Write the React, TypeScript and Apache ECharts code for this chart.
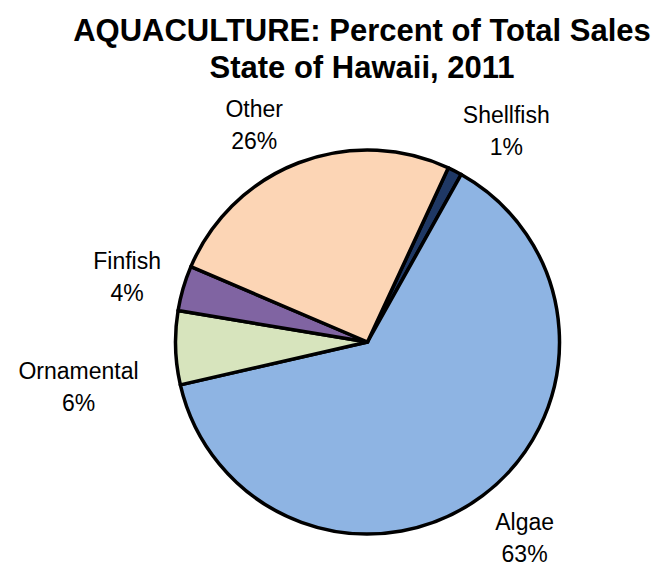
import React, { useEffect, useRef } from 'react';
import * as echarts from 'echarts';

// ---- data ----
const categories = ['Shellfish', 'Algae', 'Ornamental', 'Finfish', 'Other'];
const shares = [1.2, 63.3, 6.2, 3.8, 25.5];
const titleLines = ['AQUACULTURE: Percent of Total Sales', 'State of Hawaii, 2011'];

// ---- styles / layout ----
const colors = ['#1F3864', '#8EB4E3', '#D7E4BD', '#8064A2', '#FCD5B5'];
const labelNudge: number[][] = [[26, 10], [6, -6], [-17, 37], [-3, 4], [-25, 13]];
const W = 667;
const H = 567;
const CX = 367.5;
const CY = 342;
const R = 192;
const GAP = 20;
const START_CW = 24.9; // degrees clockwise from 12 o'clock
const FONT = '"Liberation Sans", Arial, sans-serif';

export default function App() {
  const ref = useRef<HTMLDivElement>(null);
  useEffect(() => {
    if (!ref.current) return;
    const chart = echarts.init(ref.current, undefined, { renderer: 'svg' });
    const total = shares.reduce((a, b) => a + b, 0);
    const mids: number[] = [];
    let acc = 0;
    shares.forEach((v) => {
      const a0 = START_CW + (acc / total) * 360;
      acc += v;
      const a1 = START_CW + (acc / total) * 360;
      mids.push((a0 + a1) / 2);
    });
    chart.setOption({
      animation: false,
      backgroundColor: '#ffffff',
      graphic: [
        {
          type: 'text',
          x: 362,
          y: 30,
          style: {
            text: titleLines[0],
            align: 'center',
            verticalAlign: 'middle',
            fontFamily: FONT,
            fontSize: 31,
            fontWeight: 'bold',
            fill: '#000',
          },
        },
        {
          type: 'text',
          x: 362,
          y: 67,
          style: {
            text: titleLines[1],
            align: 'center',
            verticalAlign: 'middle',
            fontFamily: FONT,
            fontSize: 31,
            fontWeight: 'bold',
            fill: '#000',
          },
        },
      ],
      series: [
        {
          type: 'pie',
          center: [CX, CY],
          radius: [0, R],
          startAngle: 90 - START_CW,
          clockwise: true,
          avoidLabelOverlap: false,
          itemStyle: { borderColor: '#000', borderWidth: 3.5 },
          emphasis: { disabled: true },
          label: {
            show: true,
            position: 'outside',
            fontFamily: FONT,
            fontSize: 23,
            lineHeight: 32,
            color: '#000',
            align: 'center',
            formatter: (p: any) => `${p.name}\n${Math.round(p.percent)}%`,
          },
          labelLine: { show: false },
          labelLayout: (params: any) => {
            const i = params.dataIndex;
            const th = (mids[i] * Math.PI) / 180;
            const dx = Math.sin(th);
            const dy = -Math.cos(th);
            const w = params.labelRect.width;
            const h = params.labelRect.height;
            const t = Math.min(
              Math.abs(dx) > 1e-6 ? w / 2 / Math.abs(dx) : 1e9,
              Math.abs(dy) > 1e-6 ? h / 2 / Math.abs(dy) : 1e9
            );
            const d = R + GAP + t;
            return {
              x: CX + dx * d + labelNudge[i][0],
              y: CY + dy * d + labelNudge[i][1],
              align: 'center',
              verticalAlign: 'middle',
            };
          },
          data: categories.map((name, i) => ({
            name,
            value: shares[i],
            itemStyle: { color: colors[i] },
          })),
        },
      ],
    });
    return () => chart.dispose();
  }, []);
  return (
    <div
      ref={ref}
      style={{ position: 'absolute', left: 0, top: 0, width: W, height: H }}
    />
  );
}
